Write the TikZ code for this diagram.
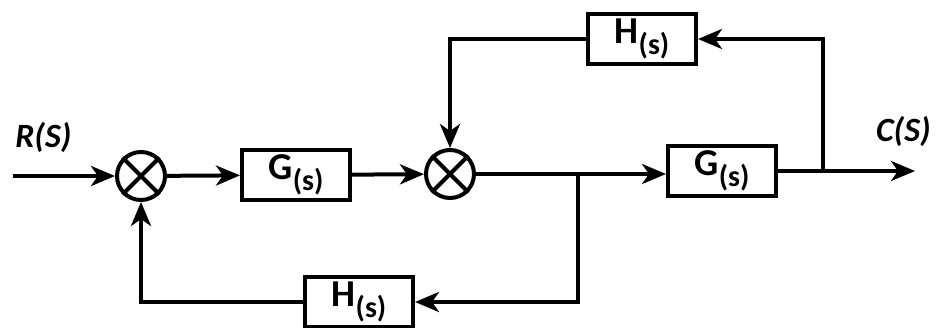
\documentclass[tikz,border=0pt]{standalone}
\usepackage{fontspec}
\setmainfont{Carlito}
\usetikzlibrary{arrows.meta}
\newcommand{\subs}{\raisebox{-0.28em}{\fontsize{30}{30}\selectfont(s)}}
\begin{document}
\begin{tikzpicture}[x=1pt,y=-1pt,
  line width=4pt,
  blk/.style={draw,line width=4pt,minimum width=108pt,minimum height=50pt,inner sep=0pt,font=\bfseries\fontsize{38}{40}\selectfont},
  sumj/.style={draw,circle,line width=4pt,minimum size=48pt,inner sep=0pt},
  arr/.style={-{Stealth[length=24pt,width=20pt,inset=7pt]}},
  lbl/.style={font=\bfseries\itshape\fontsize{34}{36}\selectfont}]
\useasboundingbox (0,0) rectangle (936,327);
\node[sumj] (s1) at (141,176) {};
\node[sumj] (s2) at (450,174) {};
\foreach \s in {s1,s2}{
  \draw (\s.north west) -- (\s.south east);
  \draw (\s.north east) -- (\s.south west);
}
\node[blk] (g1) at (296,175) {G\subs};
\node[blk] (g2) at (722,171) {G\subs};
\node[blk] (h1) at (642,39) {H\subs};
\node[blk] (h2) at (359,302) {H\subs};
\coordinate (in) at (13,176);
\coordinate (out) at (915,171);
\coordinate (br) at (578,172);
\coordinate (tap) at (823,171);
\node[lbl,anchor=south west] (R) at (10,158) {R(S)};
\node[lbl,anchor=south east] (C) at (936,152) {C(S)};
\draw[arr] (in) -- (s1);
\draw[arr] (s1) -- (g1);
\draw[arr] (g1) -- (s2);
\draw[arr] (s2.east) -- (s2.east -| g2.west);
\draw (g2.east) -- (tap);
\draw[arr] (tap) -- (out);
\draw[arr] (tap) |- (h1.east);
\draw[arr] (h1.west) -| (s2.north);
\draw[arr] (br) |- (h2.east);
\draw[arr] (h2.west) -| (s1.south);
\end{tikzpicture}
\end{document}
